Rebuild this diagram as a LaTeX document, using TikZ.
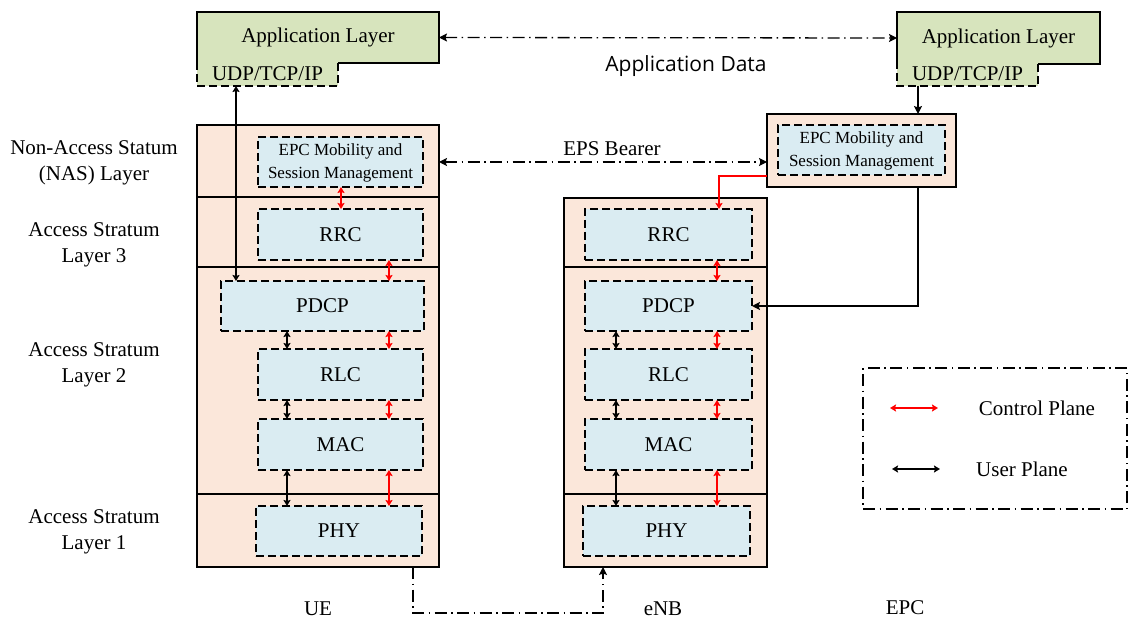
\documentclass[tikz,border=0pt]{standalone}
\usepackage{fontspec}
\setmainfont{Liberation Serif}
\newfontfamily\sansf{Open Sans}
\usetikzlibrary{arrows.meta,calc}

\definecolor{peachc}{HTML}{FBE7DA}
\definecolor{bluec}{HTML}{DAECF2}
\definecolor{greenc}{HTML}{D7E4BD}
\definecolor{ctrlred}{HTML}{FF0000}

\tikzset{
  every node/.style={inner sep=0pt, outer sep=0pt},
  dd/.style={dash pattern=on 12pt off 4.5pt on 1.5pt off 4.5pt},
  dsh/.style={dash pattern=on 8pt off 4pt},
  stackbox/.style={fill=peachc, draw=black, line width=1.3pt},
  layerbox/.style={fill=bluec, draw=black, line width=1.4pt, dsh,
    font=\fontsize{21}{25}\selectfont},
  greenfill/.style={fill=greenc},
  sideLabel/.style={align=center, font=\fontsize{21}{26}\selectfont},
  plainLabel/.style={font=\fontsize{21}{25}\selectfont},
  bigtip/.style={{Stealth[length=8pt,width=8pt,inset=1.5pt]}-{Stealth[length=8pt,width=8pt,inset=1.5pt]}},
  endtip/.style={-{Stealth[length=8pt,width=8pt,inset=1.5pt]}},
  smalltips/.style={{Stealth[length=6pt,width=7pt,inset=1pt]}-{Stealth[length=6pt,width=7pt,inset=1pt]}},
  smallend/.style={-{Stealth[length=6pt,width=7pt,inset=1pt]}},
  ctrl/.style={draw=ctrlred, line width=1.3pt},
  user/.style={draw=black, line width=1.3pt},
}

\begin{document}
\begin{tikzpicture}[x=1pt,y=-1pt]
\useasboundingbox (0,0) rectangle (1129,620);

% ---------- application layers ----------
\node[greenfill, minimum width=242pt, minimum height=51pt] (appL) at (318,37.5) {};
\node[greenfill, minimum width=141pt, minimum height=23pt] (udpL) at (267.5,74.5) {};
\node[plainLabel] at (appL.center) {Application Layer};
\node[plainLabel] at ([yshift=1pt]udpL.center) {UDP/TCP/IP};
\draw[line width=1.3pt] (udpL.north west) -- (appL.north west) -- (appL.north east)
  -- (appL.south east) -- (udpL.north east);
\draw[line width=1.4pt, dsh] (udpL.north east) -- (udpL.south east)
  -- (udpL.south west) -- (udpL.north west);

\node[greenfill, minimum width=203pt, minimum height=52pt] (appR) at (998.5,38) {};
\node[greenfill, minimum width=141pt, minimum height=22pt] (udpR) at (967.5,75) {};
\node[plainLabel] at (appR.center) {Application Layer};
\node[plainLabel] at ([yshift=1pt]udpR.center) {UDP/TCP/IP};
\draw[line width=1.3pt] (udpR.north west) -- (appR.north west) -- (appR.north east)
  -- (appR.south east) -- (udpR.north east);
\draw[line width=1.4pt, dsh] (udpR.north east) -- (udpR.south east)
  -- (udpR.south west) -- (udpR.north west);

\draw[user, dd, bigtip] (appL.east) -- (appR.west);
\node[font=\sansf\fontsize{21}{24}\selectfont] (appData) at (686,66) {Application Data};

% ---------- UE stack ----------
\node[stackbox, minimum width=242pt, minimum height=442pt] (ue) at (318,346) {};
\draw[line width=1.2pt] (ue.west |- 0,197) -- (ue.east |- 0,197);
\draw[line width=1.2pt] (ue.west |- 0,267) -- (ue.east |- 0,267);
\draw[line width=1.2pt] (ue.west |- 0,494) -- (ue.east |- 0,494);

\node[layerbox, minimum width=165pt, minimum height=50pt] (nasU) at (340.5,162)
  {\begin{tabular}{@{}c@{}}\fontsize{17}{21}\selectfont EPC Mobility and\\[-2pt]
   \fontsize{17}{21}\selectfont Session Management\end{tabular}};
\node[layerbox, minimum width=165pt, minimum height=51pt] (rrcU) at (340.5,234.5) {RRC};
\node[layerbox, minimum width=203pt, minimum height=50pt] (pdcpU) at (322.5,306) {PDCP};
\node[layerbox, minimum width=165pt, minimum height=51pt] (rlcU) at (340.5,374.5) {RLC};
\node[layerbox, minimum width=165pt, minimum height=51pt] (macU) at (340.5,444.5) {MAC};
\node[layerbox, minimum width=166pt, minimum height=50pt] (phyU) at (339,531) {PHY};

% ---------- eNB stack ----------
\node[stackbox, minimum width=203pt, minimum height=369pt] (enb) at (665.5,382.5) {};
\draw[line width=1.2pt] (enb.west |- 0,267) -- (enb.east |- 0,267);
\draw[line width=1.2pt] (enb.west |- 0,494) -- (enb.east |- 0,494);

\node[layerbox, minimum width=167pt, minimum height=51pt] (rrcE) at (668.5,234.5) {RRC};
\node[layerbox, minimum width=167pt, minimum height=50pt] (pdcpE) at (668.5,306) {PDCP};
\node[layerbox, minimum width=167pt, minimum height=51pt] (rlcE) at (668.5,374.5) {RLC};
\node[layerbox, minimum width=167pt, minimum height=51pt] (macE) at (668.5,444.5) {MAC};
\node[layerbox, minimum width=167pt, minimum height=50pt] (phyE) at (666.5,531) {PHY};

% ---------- EPC ----------
\node[stackbox, minimum width=189pt, minimum height=73pt] (epc) at (861.5,150.5) {};
\node[layerbox, minimum width=167pt, minimum height=50pt] (epcI) at (861.5,150)
  {\begin{tabular}{@{}c@{}}\fontsize{17}{21}\selectfont EPC Mobility and\\[-2pt]
   \fontsize{17}{21}\selectfont Session Management\end{tabular}};

% ---------- side labels ----------
\node[sideLabel] (lNAS) at (94,163) {Non-Access Statum\\(NAS) Layer};
\node[sideLabel] (lAS3) at (94,245) {Access Stratum\\Layer 3};
\node[sideLabel] (lAS2) at (94,365) {Access Stratum\\Layer 2};
\node[sideLabel] (lAS1) at (94,532) {Access Stratum\\Layer 1};

\node[plainLabel] (lUE) at (318,609) {UE};
\node[plainLabel] (lENB) at (663,609) {eNB};
\node[plainLabel] (lEPC) at (905,608) {EPC};

% ---------- connectors ----------
% UE user plane path up to the transport layer
\draw[user, smalltips] (udpL.south -| 236,0) -- (pdcpU.north -| 236,0);
% EPS bearer
\draw[user, dd, bigtip] (ue.east |- 0,162) -- (epc.west |- 0,162);
\node[plainLabel] (eps) at (612,149) {EPS Bearer};
% transport layer to core
\draw[user, endtip] (udpR.south -| 918,0) -- (epc.north -| 918,0);
% core to eNB
\draw[ctrl, smallend] (epc.west |- 0,176) -| (rrcE.north -| 719,0);
\draw[user, endtip] (epc.south -| 918,0) |- (pdcpE.east);
% radio link
\draw[user, dd, endtip] (ue.south -| 413,0) -- ++(0,46) -| (enb.south -| 603,0);

% UE inter-layer links
\draw[ctrl, smalltips] (nasU.south -| 341,0) -- (rrcU.north -| 341,0);
\draw[ctrl, smalltips] (rrcU.south -| 389,0) -- (pdcpU.north -| 389,0);
\draw[ctrl, smalltips] (pdcpU.south -| 389,0) -- (rlcU.north -| 389,0);
\draw[ctrl, smalltips] (rlcU.south -| 389,0) -- (macU.north -| 389,0);
\draw[ctrl, smalltips] (macU.south -| 389,0) -- (phyU.north -| 389,0);
\draw[user, smalltips] (pdcpU.south -| 287,0) -- (rlcU.north -| 287,0);
\draw[user, smalltips] (rlcU.south -| 287,0) -- (macU.north -| 287,0);
\draw[user, smalltips] (macU.south -| 287,0) -- (phyU.north -| 287,0);

% eNB inter-layer links
\draw[ctrl, smalltips] (rrcE.south -| 717,0) -- (pdcpE.north -| 717,0);
\draw[ctrl, smalltips] (pdcpE.south -| 717,0) -- (rlcE.north -| 717,0);
\draw[ctrl, smalltips] (rlcE.south -| 717,0) -- (macE.north -| 717,0);
\draw[ctrl, smalltips] (macE.south -| 717,0) -- (phyE.north -| 717,0);
\draw[user, smalltips] (pdcpE.south -| 616,0) -- (rlcE.north -| 616,0);
\draw[user, smalltips] (rlcE.south -| 616,0) -- (macE.north -| 616,0);
\draw[user, smalltips] (macE.south -| 616,0) -- (phyE.north -| 616,0);

% ---------- legend ----------
\node[draw=black, line width=1.2pt, dd, minimum width=264pt, minimum height=141pt]
  (legend) at (995,438.5) {};
\coordinate (cpA) at (890,408);
\coordinate (cpB) at (938,408);
\coordinate (upA) at (892,469);
\coordinate (upB) at (940,469);
\draw[ctrl, smalltips] (cpA) -- (cpB);
\draw[user, smalltips] (upA) -- (upB);
\node[plainLabel] (cpText) at (1037,408) {Control Plane};
\node[plainLabel] (upText) at (1022,469) {User Plane};

\end{tikzpicture}
\end{document}
